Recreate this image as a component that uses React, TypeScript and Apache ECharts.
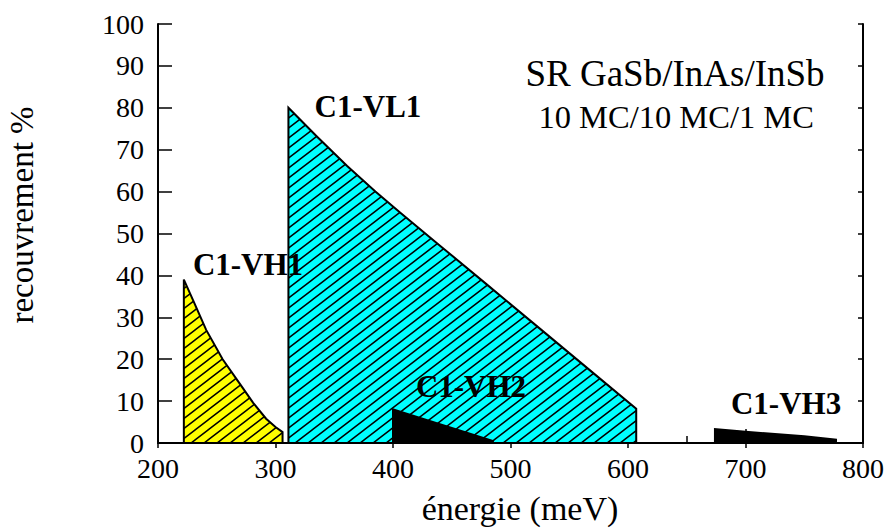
import React, { useEffect, useRef } from 'react';
import * as echarts from 'echarts';

// Energy (meV) and overlap (%) outlines of each transition region
const vh1Energy = [222, 222, 230, 241, 255, 270, 281, 292, 300, 306, 306];
const vh1Value = [0, 39, 34, 27, 20, 14, 9.6, 5.8, 3.8, 2.6, 0];
const vl1Energy = [311, 311, 335, 361, 385, 406, 440, 480, 525, 570, 607, 607];
const vl1Value = [0, 80, 73.2, 66.1, 60, 55, 47.1, 37.8, 27.3, 16.8, 8.2, 0];
const vh2Energy = [400, 400, 485, 485];
const vh2Value = [0, 8, 0.5, 0];
const vh3Energy = [674, 674, 700, 750, 777, 777];
const vh3Value = [0, 3.3, 2.7, 1.6, 0.8, 0];

// Region labels (anchored in data coordinates)
const labelTexts = ['C1-VH1', 'C1-VL1', 'C1-VH2', 'C1-VH3'];
const labelEnergy = [276.6, 378.7, 466.4, 734.5];
const labelValue = [42.5, 80.3, 13.4, 9.5];

// Sample description
const noteLines = ['SR GaSb/InAs/InSb', '10 MC/10 MC/1 MC'];
const noteEnergy = [640, 641];
const noteValue = [88.2, 77.7];
const noteSizes = [37, 32.5];

const SERIF = '"Liberation Serif", "Times New Roman", serif';

function hatch(color: string) {
  const W = 13;
  const H = 10;
  const svg =
    `<svg xmlns='http://www.w3.org/2000/svg' width='${W}' height='${H}'>` +
    `<rect width='${W}' height='${H}' fill='${color}'/>` +
    `<path d='M${-W} ${2 * H}L${2 * W} ${-H}M${-W} ${H}L${2 * W} ${-2 * H}M${-W} ${3 * H}L${2 * W} 0' stroke='black' stroke-width='1.5' fill='none'/>` +
    `</svg>`;
  return {
    image: 'data:image/svg+xml;charset=utf-8,' + encodeURIComponent(svg),
    repeat: 'repeat',
    imageWidth: W,
    imageHeight: H,
  };
}

function regionSeries(name: string, xs: number[], ys: number[], fill: any, z: number) {
  return {
    type: 'custom',
    name,
    coordinateSystem: 'cartesian2d',
    xAxisIndex: 0,
    yAxisIndex: 0,
    silent: true,
    clip: false,
    z,
    data: xs.map((x, i) => [x, ys[i]]),
    renderItem: (params: any, api: any) => {
      if (params.dataIndex !== 0) return null;
      const pts = xs.map((x, i) => api.coord([x, ys[i]]));
      return {
        type: 'polygon',
        shape: { points: pts },
        style: { fill, stroke: '#000', lineWidth: 2, lineJoin: 'miter' },
      };
    },
  };
}

function textSeries(texts: string[], xs: number[], ys: number[], fonts: string[], z: number) {
  return {
    type: 'custom',
    coordinateSystem: 'cartesian2d',
    xAxisIndex: 0,
    yAxisIndex: 0,
    silent: true,
    clip: false,
    z,
    data: xs.map((x, i) => [x, ys[i]]),
    renderItem: (params: any, api: any) => {
      const i = params.dataIndex;
      const p = api.coord([api.value(0), api.value(1)]);
      return {
        type: 'text',
        x: p[0],
        y: p[1],
        style: {
          text: texts[i],
          font: fonts[i],
          fill: '#000',
          textAlign: 'center',
          textVerticalAlign: 'middle',
        },
      };
    },
  };
}

export default function App() {
  const ref = useRef<HTMLDivElement>(null);
  useEffect(() => {
    if (!ref.current) return;
    const chart = echarts.init(ref.current, undefined, { renderer: 'svg' });
    const axisLine = { show: true, lineStyle: { color: '#000', width: 2 } };
    const labelStyle = { color: '#000', fontSize: 28, fontFamily: SERIF };
    chart.setOption({
      animation: false,
      backgroundColor: '#fff',
      grid: { left: 158, right: 27, top: 24, bottom: 85, containLabel: false },
      xAxis: [
        {
          type: 'value',
          position: 'bottom',
          min: 200,
          max: 800,
          interval: 100,
          axisLine,
          axisTick: { show: true, inside: true, length: 14, lineStyle: { color: '#000', width: 1.5 } },
          minorTick: { show: true, splitNumber: 2, length: 7, lineStyle: { color: '#000', width: 1.5 } },
          axisLabel: { ...labelStyle, margin: 11 },
          splitLine: { show: false },
        },
        {
          type: 'value',
          position: 'top',
          min: 200,
          max: 800,
          interval: 100,
          axisLine,
          axisTick: { show: true, inside: true, length: 5, lineStyle: { color: '#000', width: 1.5 } },
          axisLabel: { show: false },
          splitLine: { show: false },
        },
      ],
      yAxis: [
        {
          type: 'value',
          position: 'left',
          min: 0,
          max: 100,
          interval: 10,
          axisLine,
          axisTick: { show: true, inside: true, length: 14, lineStyle: { color: '#000', width: 1.5 } },
          axisLabel: { ...labelStyle, margin: 14 },
          splitLine: { show: false },
        },
        {
          type: 'value',
          position: 'right',
          min: 0,
          max: 100,
          interval: 10,
          axisLine,
          axisTick: { show: true, inside: true, length: 5, lineStyle: { color: '#000', width: 1.5 } },
          axisLabel: { show: false },
          splitLine: { show: false },
        },
      ],
      graphic: [
        {
          type: 'text',
          x: 22,
          y: 215,
          rotation: Math.PI / 2,
          style: {
            text: 'recouvrement %',
            font: `33px ${SERIF}`,
            fill: '#000',
            textAlign: 'center',
            textVerticalAlign: 'middle',
          },
        },
        {
          type: 'text',
          x: 520,
          y: 508,
          style: {
            text: 'énergie (meV)',
            font: `34px ${SERIF}`,
            fill: '#000',
            textAlign: 'center',
            textVerticalAlign: 'middle',
          },
        },
      ],
      series: [
        regionSeries('C1-VH1', vh1Energy, vh1Value, hatch('#ffff00'), 2),
        regionSeries('C1-VL1', vl1Energy, vl1Value, hatch('#00ffff'), 3),
        regionSeries('C1-VH2', vh2Energy, vh2Value, '#000', 4),
        regionSeries('C1-VH3', vh3Energy, vh3Value, '#000', 4),
        textSeries(labelTexts, labelEnergy, labelValue, labelTexts.map(() => `bold 31px ${SERIF}`), 10),
        textSeries(noteLines, noteEnergy, noteValue, noteSizes.map((s) => `${s}px ${SERIF}`), 10),
      ],
    });
    return () => chart.dispose();
  }, []);
  return (
    <div
      ref={ref}
      style={{ position: 'fixed', left: 0, top: 0, width: 890, height: 528, background: '#fff' }}
    />
  );
}
